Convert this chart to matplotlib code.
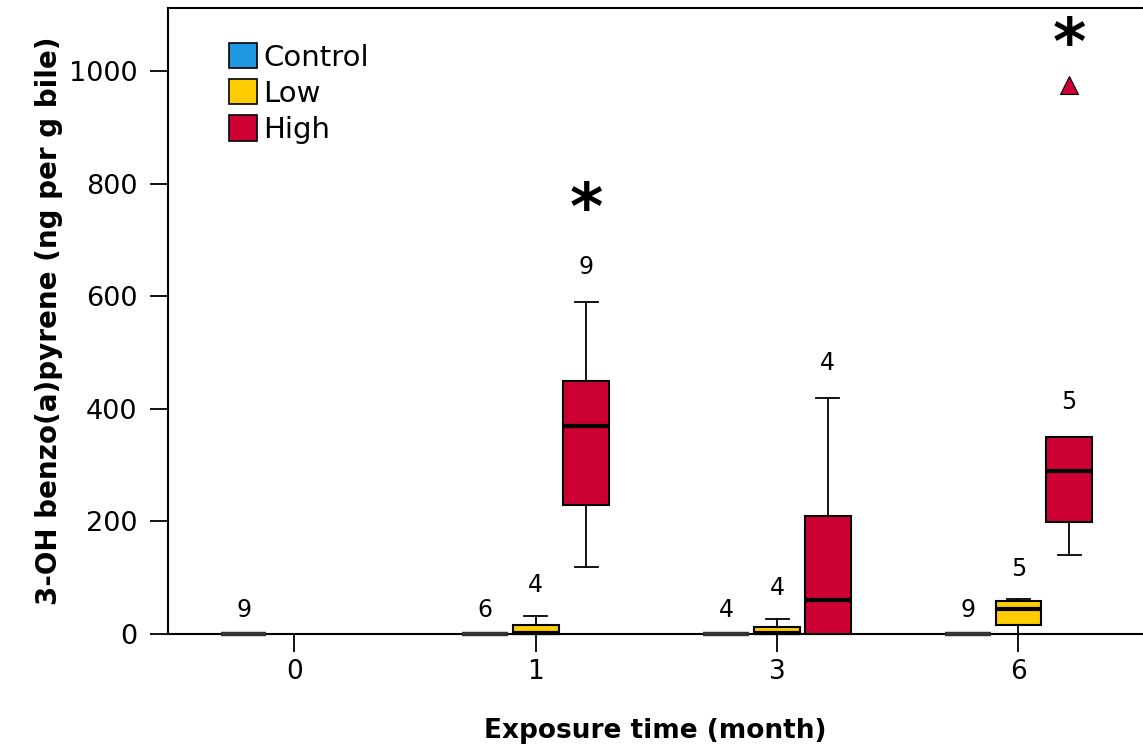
import matplotlib
matplotlib.use('Agg')
import matplotlib.pyplot as plt
import numpy as np
from matplotlib.patches import Patch

nan = np.nan
times = ['0', '1', '3', '6']
series = ['Control', 'Low', 'High']
colors = ['#1E96E0', '#FFCC00', '#CC0033']

# box statistics per series, one value per exposure time
control_lo = [0, 0, 0, 0]
control_q1 = [0, 0, 0, 0]
control_med = [0, 0, 0, 0]
control_q3 = [0, 0, 0, 0]
control_hi = [0, 0, 0, 0]
control_n = [9, 6, 4, 9]

low_lo = [nan, 0, 0, 0]
low_q1 = [nan, 0, 0, 16]
low_med = [nan, 1, 2, 45]
low_q3 = [nan, 16, 13, 59]
low_hi = [nan, 32, 27, 62]
low_n = [None, 4, 4, 5]

high_lo = [nan, 119, 0, 140]
high_q1 = [nan, 229, 0, 199]
high_med = [nan, 370, 60, 290]
high_q3 = [nan, 449, 210, 350]
high_hi = [nan, 590, 420, 350]
high_n = [None, 9, 4, 5]
high_outliers = [[], [], [], [975]]

# significance asterisks (time index, y value)
star_idx = [1, 3]
star_y = [752, 1045]

yticks = [0, 200, 400, 600, 800, 1000]

fig = plt.figure(figsize=(11.43, 7.54), dpi=100)
ax = fig.add_axes([168/1143, 120/754, 975/1143, 626/754])

all_stats = [
    (control_lo, control_q1, control_med, control_q3, control_hi, control_n, [[]]*4),
    (low_lo, low_q1, low_med, low_q3, low_hi, low_n, [[]]*4),
    (high_lo, high_q1, high_med, high_q3, high_hi, high_n, high_outliers),
]
offsets = [-0.21, 0.0, 0.21]
width = 0.19

for s, (lo, q1, med, q3, hi, ns, fl) in enumerate(all_stats):
    for i in range(len(times)):
        if np.isnan(med[i]):
            continue
        st = [dict(whislo=lo[i], q1=q1[i], med=med[i], q3=q3[i], whishi=hi[i], fliers=fl[i])]
        pos = i + offsets[s]
        is_ctrl = (s == 0)
        arts = ax.bxp(st, positions=[pos], widths=width, patch_artist=True,
               showfliers=True, capwidths=width * 0.5,
               boxprops=dict(facecolor=colors[s], edgecolor='#333333' if is_ctrl else 'black',
                             linewidth=1.5),
               medianprops=dict(color='#333333' if is_ctrl else 'black', linewidth=3 if not is_ctrl else 3.2),
               whiskerprops=dict(color='black', linewidth=1.3),
               capprops=dict(color='black', linewidth=1.3),
               flierprops=dict(marker='^', markerfacecolor=colors[s], markeredgecolor='black',
                               markersize=13, markeredgewidth=0.8),
               manage_ticks=False, zorder=3)
        for k, lst in arts.items():
            for a in lst:
                a.set_clip_on(False)
        if ns[i] is not None:
            off = 17 if is_ctrl else (25 if s == 2 else 22)
            ax.annotate(str(ns[i]), (pos, hi[i]), xytext=(0, off),
                        textcoords='offset points', ha='center', va='center',
                        fontsize=17, color='black')

for i, y in zip(star_idx, star_y):
    ax.text(i + offsets[2], y, '*', ha='center', va='center', fontsize=46,
            fontweight='bold', color='black')

ax.set_xlim(-0.523, 3.516)
ax.set_ylim(0, 1112)
ax.set_xticks(range(len(times)))
ax.set_xticklabels(times, fontsize=19)
ax.set_yticks(yticks)
ax.set_yticklabels([str(t) for t in yticks], fontsize=19.5)
ax.tick_params(axis='both', direction='out', length=13, width=1.3, color='black')
ax.tick_params(axis='y', pad=9)
ax.tick_params(axis='x', pad=5)
for sp in ['left', 'bottom', 'top']:
    ax.spines[sp].set_linewidth(1.5)
ax.spines['right'].set_visible(False)

ax.set_xlabel('Exposure time (month)', fontsize=19, fontweight='bold', labelpad=24)
ax.set_ylabel('3-OH benzo(a)pyrene (ng per g bile)', fontsize=20,
              fontweight='bold', labelpad=4)

handles = [Patch(facecolor=c, edgecolor='black', linewidth=1.2) for c in colors]
ax.legend(handles, series, loc='upper left', bbox_to_anchor=(0.063, 0.944), frameon=False,
          fontsize=21, handlelength=0.95, handleheight=0.95, handletextpad=0.2,
          labelspacing=0.26, borderpad=0, borderaxespad=0)

fig.savefig('out.png', dpi=100)
